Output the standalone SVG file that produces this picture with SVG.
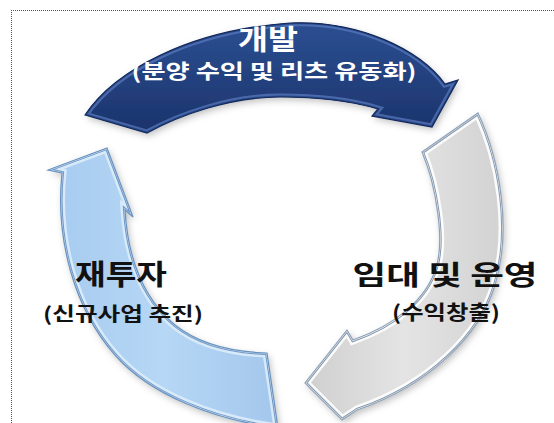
<svg xmlns="http://www.w3.org/2000/svg" width="554" height="423" viewBox="0 0 554 423">
  <style>
    .lbl { font-family: "Noto Sans CJK KR", "Noto Sans", sans-serif; font-weight: 700; text-anchor: middle; }
    .dark { fill: #111111; }
    .white { fill: #ffffff; }
    .border { fill: none; stroke: #555555; stroke-width: 1; stroke-dasharray: 1 1; }
  </style>
  <defs>
    <filter id="sh" x="-20%" y="-20%" width="140%" height="140%">
      <feDropShadow dx="2" dy="3" stdDeviation="3.5" flood-color="#000000" flood-opacity="0.25"/>
    </filter>
    <linearGradient id="gDark" x1="0" y1="0" x2="0" y2="1">
      <stop offset="0" stop-color="#2c4f92"/>
      <stop offset="1" stop-color="#1b336b"/>
    </linearGradient>
    <linearGradient id="gGrey" x1="0" y1="0" x2="1" y2="0">
      <stop offset="0" stop-color="#cfcfcf"/>
      <stop offset="0.5" stop-color="#e4e4e4"/>
      <stop offset="1" stop-color="#d2d2d2"/>
    </linearGradient>
    <linearGradient id="gBlue" x1="0" y1="0" x2="1" y2="0">
      <stop offset="0" stop-color="#a6cbef"/>
      <stop offset="0.5" stop-color="#b6d7f5"/>
      <stop offset="1" stop-color="#a3c7ec"/>
    </linearGradient>
    <path id="pDark" d="M85,115 C115,70 190,30 290,23 C360,20 420,50 445,84 L458,80 L432,127 L372,116 L378,109 C355,102 320,97 280,97 C230,97 180,115 147,133 Z"/>
    <path id="pGrey" d="M478,113 C500,160 512,230 495,285 C480,335 430,385 357,410 L342,420 L305,383 L347,330 L353,340 C395,325 426,300 436,268 C445,240 436,185 422,152 Z"/>
    <path id="pBlue" d="M107,148 L133,217 L125,210 C128,260 145,300 175,325 C200,345 235,352 267,353 L278,428 C215,420 150,395 115,355 C75,310 55,240 62,173 L48,170 Z"/>
    <clipPath id="cDark"><use href="#pDark"/></clipPath>
    <clipPath id="cGrey"><use href="#pGrey"/></clipPath>
    <clipPath id="cBlue"><use href="#pBlue"/></clipPath>
  </defs>

  <rect width="554" height="423" fill="#ffffff"/>
  <line class="border" x1="11" y1="10.5" x2="554" y2="10.5"/>
  <line class="border" x1="11.5" y1="10" x2="11.5" y2="423"/>

  <g id="connectors">
    <g id="arrow-develop">
      <use href="#pDark" fill="url(#gDark)" filter="url(#sh)"/>
      <use href="#pDark" fill="none" stroke="#5b7cc0" stroke-width="7" clip-path="url(#cDark)" opacity="0.7"/>
      <use href="#pDark" fill="none" stroke="#2a4a8a" stroke-width="3" clip-path="url(#cDark)"/>
      <use href="#pDark" fill="none" stroke="#142a5c" stroke-width="1.2"/>
    </g>
    <g id="arrow-lease">
      <use href="#pGrey" fill="url(#gGrey)" filter="url(#sh)"/>
      <use href="#pGrey" fill="none" stroke="#ffffff" stroke-width="9" clip-path="url(#cGrey)" opacity="0.9"/>
      <use href="#pGrey" fill="none" stroke="#8497ad" stroke-width="4" clip-path="url(#cGrey)"/>
      <use href="#pGrey" fill="none" stroke="#ffffff" stroke-width="2" clip-path="url(#cGrey)"/>
      <use href="#pGrey" fill="none" stroke="#8fa2b8" stroke-width="1.2"/>
    </g>
    <g id="arrow-reinvest">
      <use href="#pBlue" fill="url(#gBlue)" filter="url(#sh)"/>
      <use href="#pBlue" fill="none" stroke="#dcecfb" stroke-width="9" clip-path="url(#cBlue)" opacity="0.9"/>
      <use href="#pBlue" fill="none" stroke="#6f97c4" stroke-width="4" clip-path="url(#cBlue)"/>
      <use href="#pBlue" fill="none" stroke="#cfe3f7" stroke-width="2" clip-path="url(#cBlue)"/>
      <use href="#pBlue" fill="none" stroke="#6a93c0" stroke-width="1.2"/>
    </g>
  </g>

  <g id="node-develop">
    <text class="lbl white" x="268" y="50" font-size="28" textLength="60" lengthAdjust="spacingAndGlyphs">개발</text>
    <text class="lbl white" x="274" y="79" font-size="20" textLength="285" lengthAdjust="spacingAndGlyphs">(분양 수익 및 리츠 유동화)</text>
  </g>
  <g id="node-lease">
    <text class="lbl dark" x="445" y="285" font-size="27" textLength="185" lengthAdjust="spacingAndGlyphs">임대 및 운영</text>
    <text class="lbl dark" x="446" y="320" font-size="20" textLength="108" lengthAdjust="spacingAndGlyphs">(수익창출)</text>
  </g>
  <g id="node-reinvest">
    <text class="lbl dark" x="121" y="285" font-size="28" textLength="92" lengthAdjust="spacingAndGlyphs">재투자</text>
    <text class="lbl dark" x="123" y="321" font-size="19" textLength="160" lengthAdjust="spacingAndGlyphs">(신규사업 추진)</text>
  </g>
</svg>
